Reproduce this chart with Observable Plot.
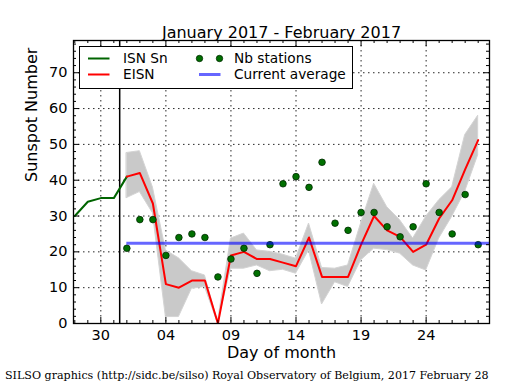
<!DOCTYPE html>
<html><head><meta charset="utf-8">
<script src="https://cdn.jsdelivr.net/npm/d3@7"></script>
<script src="https://cdn.jsdelivr.net/npm/@observablehq/plot@0.6"></script>
<style>
body{margin:0;background:#fff;}
#wrap{position:relative;width:515px;height:390px;font-family:"DejaVu Sans",sans-serif;overflow:hidden;}
#legend{position:absolute;left:79px;top:46px;width:272px;height:41px;border:1.3px solid #000;background:#fff;}
#legend svg{position:absolute;left:0;top:0;}
#caption{position:absolute;left:5px;top:369px;font-family:"DejaVu Serif",serif;font-size:11.1px;white-space:nowrap;color:#000;}
</style></head><body><div id="wrap"></div>
<script>
// ---- data (day index: January d = d, February d = 31 + d) ----
const title = "January 2017 - February 2017";
const yLabel = "Sunspot Number";
const xLabel = "Day of month";
const captionText = "SILSO graphics (http://sidc.be/silso) Royal Observatory of Belgium, 2017 February 28";

const isnDays = [28, 29, 30, 31, 32];
const isnValues = [30, 34, 35, 35, 41];

const febDays = [32,33,34,35,36,37,38,39,40,41,42,43,44,45,46,47,48,49,50,51,52,53,54,55,56,57,58,59];
const eisnValues = [41,42,33.5,11,10,12,12,0,19,20,18,18,17,16,24,13,13,13,22,30,26,24.2,20,22,29.3,34.4,43,51.2];
const bandLow  = [35,36.7,30.8,1.8,1.8,9.7,10.2,0,15.3,15.3,16.2,14.6,15,13.9,20.4,5.3,11.5,10.2,17.6,20.9,20.5,19.5,16.2,14.8,23.7,29.8,36.8,47];
const bandHigh = [47.6,48.1,38,20.4,18.2,14.6,13.4,0.4,23.7,25.1,20.4,20,19.2,18.1,27.9,15.5,15.3,16.2,27.9,39,32.5,28.8,23.7,29.8,34.4,38,52.6,58];
const stations = [21,29,29,19,24,25,24,13,18,21,14,22,39,41,38,45,28,26,31,31,27,24.2,27,39,31,25,36,22];

const currentAverage = 22.4;
const monthBoundary = 31.45;

const xDomain = [27.9, 59.87];
const yDomain = [0, 79];
const xTicks = [30, 35, 40, 45, 50, 55];
const xTickLabels = ["30", "04", "09", "14", "19", "24"];
const xMinorTicks = [28,29,30,31,32,33,34,35,36,37,38,39,40,41,42,43,44,45,46,47,48,49,50,51,52,53,54,55,56,57,58,59];
const yTicks = [0, 10, 20, 30, 40, 50, 60, 70];
const yMinorTicks = [2,4,6,8,12,14,16,18,22,24,26,28,32,34,36,38,42,44,46,48,52,54,56,58,62,64,66,68,72,74,76,78];

// ---- tables ----
const isn = isnDays.map((d, i) => ({day: d, value: isnValues[i]}));
const feb = febDays.map((d, i) => ({day: d, eisn: eisnValues[i], lo: bandLow[i], hi: bandHigh[i], nb: stations[i]}));
const labelOf = new Map(xTicks.map((d, i) => [d, xTickLabels[i]]));

const W = 515, H = 390, mL = 73, mR = 26, mT = 40, mB = 67;
const pxX = (xDomain[1] - xDomain[0]) / (W - mL - mR);
const pxY = (yDomain[1] - yDomain[0]) / (H - mT - mB);
const maj = 6, mino = 3;

const grid = {stroke: "#000", strokeOpacity: 0.85, strokeDasharray: "1.5,3.5", strokeWidth: 1};

const chart = Plot.plot({
  width: W, height: H,
  marginLeft: mL, marginRight: mR, marginTop: mT, marginBottom: mB,
  style: {fontFamily: "'DejaVu Sans', sans-serif", fontSize: "14.5px", background: "#fff", color: "#000"},
  x: {domain: xDomain},
  y: {domain: yDomain},
  marks: [
    Plot.ruleX(xTicks, {...grid}),
    Plot.ruleY(yTicks, {...grid}),
    Plot.areaY(feb, {x: "day", y1: "lo", y2: "hi", fill: "#c9c9c9", stroke: "#d4d4d4", strokeWidth: 1, clip: true}),
    Plot.ruleX([monthBoundary], {stroke: "#000", strokeWidth: 1.5}),
    Plot.line(isn, {x: "day", y: "value", stroke: "#006400", strokeWidth: 2, clip: true}),
    Plot.line(feb, {x: "day", y: "eisn", stroke: "#ff0000", strokeWidth: 2, clip: true}),
    Plot.dot(feb, {x: "day", y: "nb", r: 3.3, fill: "#007000", stroke: "#002a00", strokeWidth: 0.8, clip: true}),
    Plot.ruleY([currentAverage], {x1: febDays[0], x2: xDomain[1], stroke: "#0000ff", strokeOpacity: 0.6, strokeWidth: 3, clip: true}),
    // inward ticks
    Plot.ruleX(xTicks, {y1: yDomain[0], y2: yDomain[0] + maj * pxY, stroke: "#000"}),
    Plot.ruleX(xTicks, {y1: yDomain[1] - maj * pxY, y2: yDomain[1], stroke: "#000"}),
    Plot.ruleX(xMinorTicks.filter(d => !xTicks.includes(d)), {y1: yDomain[0], y2: yDomain[0] + mino * pxY, stroke: "#000"}),
    Plot.ruleX(xMinorTicks.filter(d => !xTicks.includes(d)), {y1: yDomain[1] - mino * pxY, y2: yDomain[1], stroke: "#000"}),
    Plot.ruleY(yTicks, {x1: xDomain[0], x2: xDomain[0] + maj * pxX, stroke: "#000"}),
    Plot.ruleY(yTicks, {x1: xDomain[1] - maj * pxX, x2: xDomain[1], stroke: "#000"}),
    Plot.ruleY(yMinorTicks, {x1: xDomain[0], x2: xDomain[0] + mino * pxX, stroke: "#000"}),
    Plot.ruleY(yMinorTicks, {x1: xDomain[1] - mino * pxX, x2: xDomain[1], stroke: "#000"}),
    Plot.frame({stroke: "#000", strokeWidth: 1.3}),
    Plot.axisX(xTicks, {tickSize: 0, tickPadding: 6, tickFormat: d => labelOf.get(d), fontSize: 14.5, label: null}),
    Plot.axisY(yTicks, {tickSize: 0, tickPadding: 6, fontSize: 14.5, label: null}),
    Plot.text([title], {frameAnchor: "top", dy: -14, fontSize: 16, text: d => d}),
    Plot.text([xLabel], {frameAnchor: "bottom", dy: 34, fontSize: 16, text: d => d}),
    Plot.text([yLabel], {frameAnchor: "left", dx: -42, rotate: -90, fontSize: 16, text: d => d})
  ]
});

const wrap = document.getElementById("wrap");
wrap.appendChild(chart);

// legend
const legendItems = [
  {label: "ISN Sn", kind: "line", color: "#006400", col: 0, row: 0},
  {label: "EISN", kind: "line", color: "#ff0000", col: 0, row: 1},
  {label: "Nb stations", kind: "dots", color: "#007000", col: 1, row: 0},
  {label: "Current average", kind: "line", color: "rgba(0,0,255,0.6)", col: 1, row: 1, w: 3}
];
const lg = document.createElement("div");
lg.id = "legend";
const ns = "http://www.w3.org/2000/svg";
const ls = document.createElementNS(ns, "svg");
ls.setAttribute("width", 272); ls.setAttribute("height", 41);
const colX = [8, 119], rowY = [11.5, 27.5];
for (const it of legendItems) {
  const x0 = colX[it.col], y0 = rowY[it.row];
  if (it.kind === "line") {
    const l = document.createElementNS(ns, "line");
    l.setAttribute("x1", x0); l.setAttribute("x2", x0 + 21.5);
    l.setAttribute("y1", y0); l.setAttribute("y2", y0);
    l.setAttribute("stroke", it.color); l.setAttribute("stroke-width", it.w || 2);
    ls.appendChild(l);
  } else {
    for (const dx of [0, 20]) {
      const c = document.createElementNS(ns, "circle");
      c.setAttribute("cx", x0 + dx + 0.5); c.setAttribute("cy", y0); c.setAttribute("r", 3.2);
      c.setAttribute("fill", it.color); c.setAttribute("stroke", "#002a00"); c.setAttribute("stroke-width", 0.8);
      ls.appendChild(c);
    }
  }
  const t = document.createElementNS(ns, "text");
  t.setAttribute("x", x0 + 35); t.setAttribute("y", y0);
  t.setAttribute("dy", "0.35em");
  t.setAttribute("font-family", "DejaVu Sans, sans-serif");
  t.setAttribute("font-size", "13.7");
  t.textContent = it.label;
  ls.appendChild(t);
}
lg.appendChild(ls);
wrap.appendChild(lg);

const cap = document.createElement("div");
cap.id = "caption";
cap.textContent = captionText;
wrap.appendChild(cap);
</script>
</body></html>
